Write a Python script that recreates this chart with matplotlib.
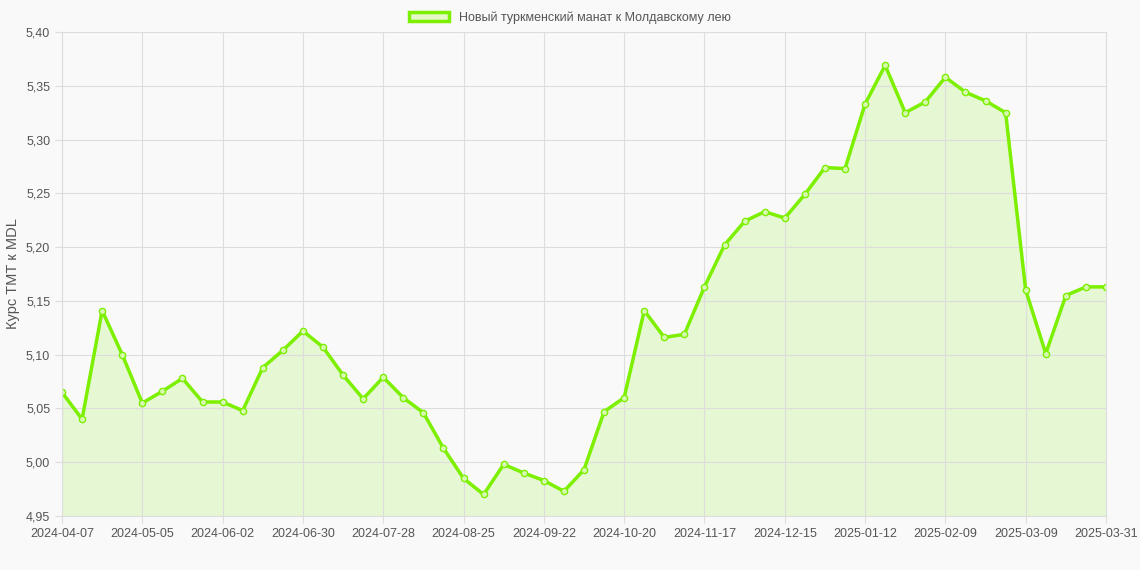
import matplotlib.pyplot as plt
from matplotlib.patches import Patch
from matplotlib.ticker import FuncFormatter, MultipleLocator

plt.rcParams['font.family'] = ['Liberation Sans', 'DejaVu Sans']

rates = [5.065, 5.040, 5.141, 5.100, 5.055, 5.066, 5.078, 5.056, 5.056, 5.048,
         5.088, 5.104, 5.122, 5.107, 5.081, 5.059, 5.079, 5.060, 5.046, 5.013,
         4.985, 4.970, 4.998, 4.990, 4.983, 4.973, 4.993, 5.047, 5.060, 5.141,
         5.116, 5.119, 5.163, 5.202, 5.224, 5.233, 5.227, 5.249, 5.274, 5.273,
         5.333, 5.369, 5.325, 5.335, 5.358, 5.344, 5.336, 5.325, 5.160, 5.101,
         5.155, 5.163, 5.163]
tick_pos = [0, 4, 8, 12, 16, 20, 24, 28, 32, 36, 40, 44, 48, 52]
tick_labels = ["2024-04-07", "2024-05-05", "2024-06-02", "2024-06-30", "2024-07-28",
               "2024-08-25", "2024-09-22", "2024-10-20", "2024-11-17", "2024-12-15",
               "2025-01-12", "2025-02-09", "2025-03-09", "2025-03-31"]
label = "Новый туркменский манат к Молдавскому лею"

green = "#7CF000"
bg = "#f9f9f9"

fig = plt.figure(figsize=(11.4, 5.7), dpi=100, facecolor=bg)
ax = fig.add_axes([62/1140, 54/570, 1044/1140, 484/570], facecolor=bg)

x = list(range(len(rates)))
ax.fill_between(x, rates, 4.95, color=green, alpha=0.15, linewidth=0)
ax.plot(x, rates, color=green, linewidth=2.5, marker="o", markersize=4.5,
        markerfacecolor="#d8f8b0", markeredgecolor=green, markeredgewidth=1.0)

ax.set_xlim(0, len(rates) - 1)
ax.set_ylim(4.95, 5.40)
ax.yaxis.set_major_locator(MultipleLocator(0.05))
ax.yaxis.set_major_formatter(FuncFormatter(lambda v, p: f"{v:.2f}".replace(".", ",")))
ax.set_xticks(tick_pos)
ax.set_xticklabels(tick_labels)
ax.grid(True, color="#dddddd", linewidth=0.8)
for s in ax.spines.values():
    s.set_color("#dddddd")
ax.tick_params(colors="#555555", labelsize=9, length=5)
ax.tick_params(axis="both", color="#dddddd")
ax.set_ylabel("Курс TMT к MDL", color="#555555", fontsize=10.5, labelpad=4)

fig.legend(handles=[Patch(facecolor="#e4f8c8", edgecolor=green, linewidth=2.5, label=label)],
           loc="upper center", bbox_to_anchor=(0.5, 1.0), frameon=False,
           fontsize=9, labelcolor="#555555", handlelength=3.2)

fig.savefig("out.png", dpi=100, facecolor=bg)
